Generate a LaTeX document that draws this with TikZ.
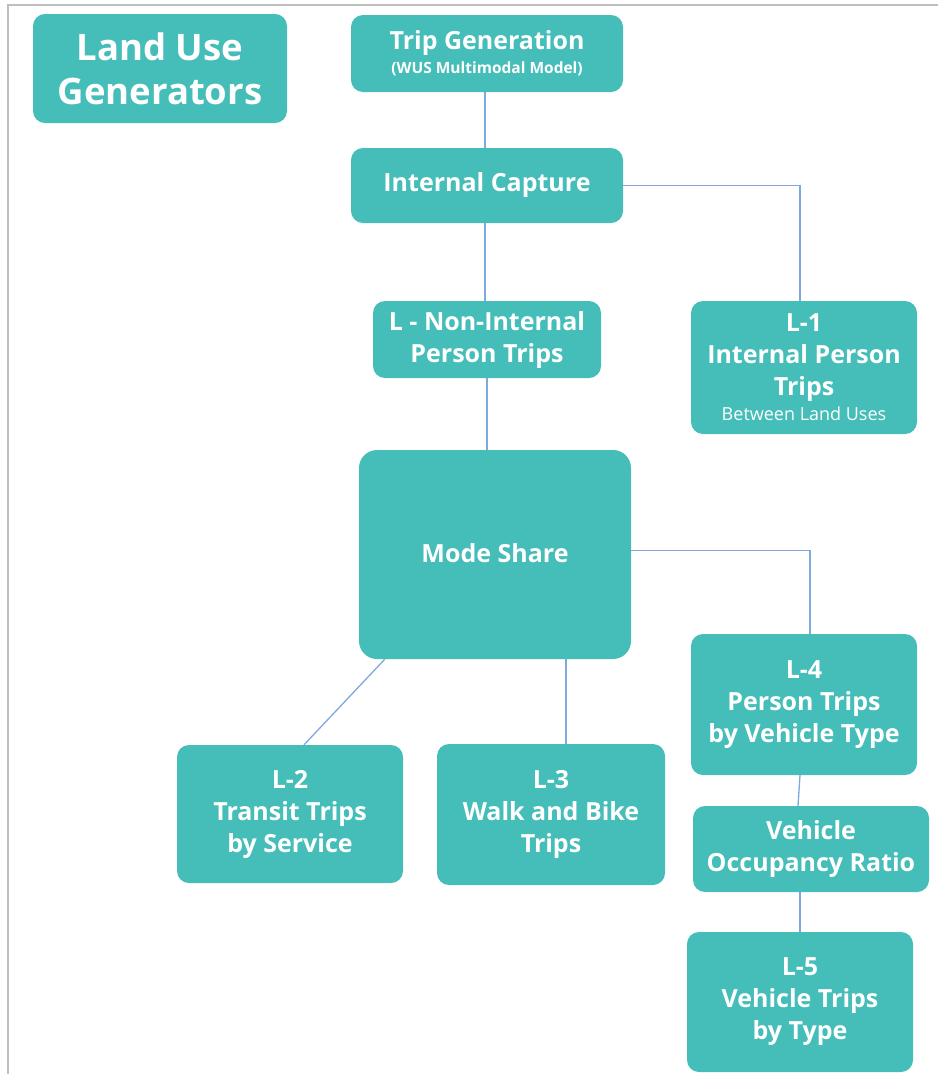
\documentclass[tikz,border=0pt]{standalone}
\usepackage{fontspec}
\setmainfont{Open Sans}
\usetikzlibrary{calc}
\definecolor{tealbox}{HTML}{45BDB8}
\definecolor{connblue}{HTML}{7EA9DE}
\definecolor{frame}{HTML}{BEBEBE}
\tikzset{
  box/.style={fill=tealbox, text=white, rounded corners=12pt, align=center, inner sep=0pt,
    font=\fontsize{25}{32}\selectfont\bfseries},
  conn/.style={draw=connblue, line width=1.3pt},
}
\begin{document}
\begin{tikzpicture}[x=1pt,y=-1pt]
\useasboundingbox (0,0) rectangle (938,1074);
\draw[frame, line width=2pt] (8,1074) -- (8,5) -- (938,5);

\node[box, minimum width=254pt, minimum height=109pt, font=\fontsize{36.5}{44}\selectfont\bfseries] (lu) at (160,68.5) {Land Use\\Generators};
\node[box, minimum width=272pt, minimum height=77pt] (tg) at (487,53.5) {Trip Generation\\[-8pt]{\fontsize{15.5}{18}\selectfont (WUS Multimodal Model)}};
\node[box, minimum width=272pt, minimum height=75pt] (ic) at (487,185.5) {Internal Capture};
\node[box, minimum width=228pt, minimum height=77pt] (ln) at (487,339.5) {\raisebox{-2pt}{L - Non-Internal}\\\raisebox{-2pt}{Person Trips}};
\node[box, minimum width=226pt, minimum height=133pt] (l1) at (804,367.5) {\raisebox{-3pt}{L-1}\\\raisebox{-3pt}{Internal Person}\\\raisebox{-3pt}{Trips}\\[-7pt]{\fontsize{18}{20}\selectfont\mdseries\raisebox{-3pt}{Between Land Uses}}};
\node[box, minimum width=272pt, minimum height=209pt, rounded corners=18pt] (ms) at (495,554.5) {\raisebox{3pt}{Mode Share}};
\node[box, minimum width=226pt, minimum height=141pt] (l4) at (804,704.5) {\raisebox{-2pt}{L-4}\\\raisebox{-2pt}{Person Trips}\\\raisebox{-2pt}{by Vehicle Type}};
\node[box, minimum width=236pt, minimum height=86pt] (vor) at (811,849) {\raisebox{-2pt}{Vehicle}\\\raisebox{-2pt}{Occupancy Ratio}};
\node[box, minimum width=226pt, minimum height=140pt] (l5) at (800,1002) {\raisebox{-3pt}{L-5}\\\raisebox{-3pt}{Vehicle Trips}\\\raisebox{-3pt}{by Type}};
\node[box, minimum width=226pt, minimum height=138pt] (l2) at (290,814) {\raisebox{-2pt}{L-2}\\\raisebox{-2pt}{Transit Trips}\\\raisebox{-2pt}{by Service}};
\node[box, minimum width=228pt, minimum height=141pt] (l3) at (551,814.5) {\raisebox{-2pt}{L-3}\\\raisebox{-2pt}{Walk and Bike}\\\raisebox{-2pt}{Trips}};

\draw[conn] ([xshift=-2pt]tg.south) -- ([xshift=-2pt]ic.north);
\draw[conn] ([xshift=-2pt]ic.south) -- ([xshift=-2pt]ln.north);
\draw[conn] (ic.east) -| ([xshift=-4pt]l1.north);
\draw[conn] (ln.south) -- (ln.south |- ms.north);
\draw[conn] ($(ms.east)+(0,-4)$) -| ([xshift=6pt]l4.north);
\draw[conn] ($(ms.south west)+(26,0)$) -- ([xshift=14pt]l2.north);
\draw[conn] ([xshift=15pt]l3.north |- ms.south) -- ([xshift=15pt]l3.north);
\draw[conn] ([xshift=-4pt]l4.south) -- ([xshift=-13pt]vor.north);
\draw[conn] (l5.north |- vor.south) -- (l5.north);
\end{tikzpicture}
\end{document}
